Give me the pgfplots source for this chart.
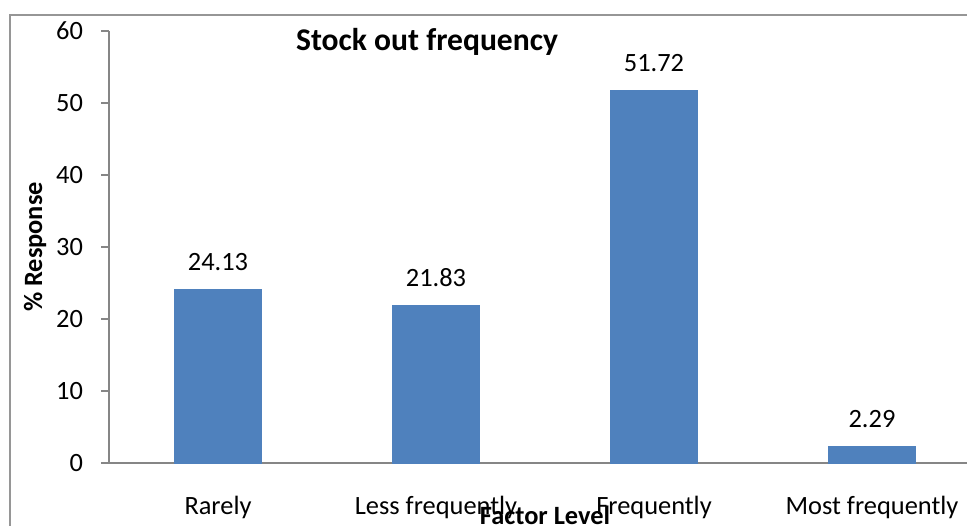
\documentclass[border=0pt]{standalone}
\usepackage{fontspec}
\setmainfont{Carlito}
\usepackage{pgfplots}
\pgfplotsset{compat=1.18}
\definecolor{barblue}{RGB}{79,129,189}
\definecolor{axgray}{RGB}{134,134,134}
\definecolor{framegray}{RGB}{150,150,150}
\begin{document}
\begin{tikzpicture}
\useasboundingbox (0,0) rectangle (483.5pt,262.5pt);
\clip (0,0) rectangle (483.5pt,262.5pt);
\draw[framegray, line width=0.8pt] (5pt,-20pt) -- (5pt,255pt) -- (520pt,255pt);
\begin{axis}[
  at={(54.5pt,31pt)}, anchor=south west,
  scale only axis, width=436pt, height=216pt,
  /pgf/number format/assume math mode=true,
  font=\fontsize{13.2pt}{15pt}\selectfont,
  ybar, bar width=43.5pt,
  xmin=-0.5, xmax=3.5, ymin=0, ymax=60,
  ytick={0,10,...,60},
  xtick={0,1,2,3},
  xticklabels={Rarely, Less frequently, Frequently, Most frequently},
  minor xtick={-0.5,0.5,1.5,2.5,3.5},
  axis x line*=bottom, axis y line*=left,
  axis line style={-, axgray, line width=0.75pt},
  tick align=outside,
  major tick length=4pt, minor tick length=3.5pt,
  xtick style={draw=none},
  minor x tick style={axgray, line width=0.65pt},
  ytick style={axgray, line width=0.65pt},
  xticklabel style={anchor=base, yshift=-21.75pt},
  yticklabel style={anchor=east, xshift=-5.5pt},
  clip=false,
  title={\bfseries Stock out frequency},
  title style={at={(axis description cs:0.3647,0.926)}, anchor=base, font=\fontsize{15.8pt}{18pt}\selectfont\bfseries},
  xlabel={\bfseries Factor Level},
  xlabel style={at={(axis description cs:0.5,-0.1435)}, anchor=base},
  ylabel={\bfseries \% Response},
  ylabel style={at={(axis description cs:-0.0768,0.5)}, anchor=base},
  nodes near coords={\pgfmathprintnumber[fixed,precision=2,fixed zerofill]{\pgfplotspointmeta}},
  every node near coord/.append style={anchor=base, yshift=9.5pt, black},
]
\addplot[fill=barblue, draw=barblue] coordinates {(0,24.13) (1,21.83) (2,51.72) (3,2.29)};
\end{axis}
\end{tikzpicture}
\end{document}
